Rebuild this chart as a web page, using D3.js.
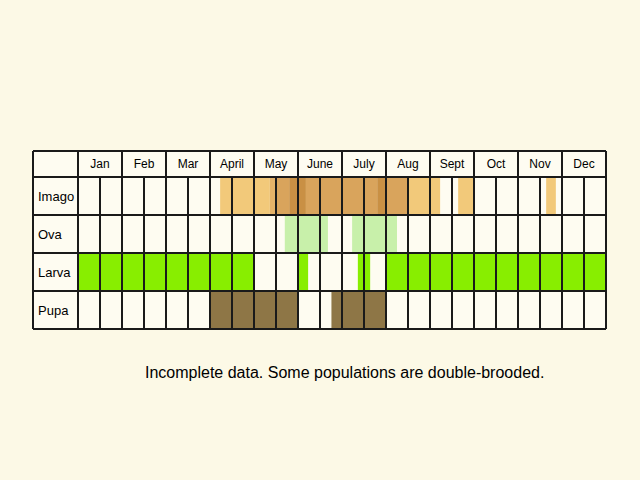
<!DOCTYPE html>
<html>
<head>
<meta charset="utf-8">
<script src="https://cdn.jsdelivr.net/npm/d3@7"></script>
<style>
  body { margin:0; background:#fcf9e6; }
  svg { display:block; font-family:"Liberation Sans", Arial, sans-serif; }
</style>
</head>
<body>
<script>
// months and life stages
const months = ["Jan","Feb","Mar","April","May","June","July","Aug","Sept","Oct","Nov","Dec"];
const stages = ["Imago","Ova","Larva","Pupa"];

// periods in months from 1 Jan (0) to 31 Dec (12); level = how many records overlap
const imago = [
  [3.23, 4.36, 1], [4.36, 4.52, 2], [4.52, 4.80, 3], [4.80, 5.18, 4],
  [5.18, 6.80, 3], [6.80, 7.00, 4], [7.00, 7.50, 3], [7.50, 8.23, 1],
  [8.64, 8.98, 1], [10.64, 10.86, 1]
];
const ova = [[4.70, 5.68], [6.23, 7.25]];
const larva = [[0, 4], [5.0, 5.23], [6.36, 6.64], [7, 12]];
const pupa = [[3, 5], [5.76, 7]];

const note = "Incomplete data. Some populations are double-brooded.";

function viz(){
  const width = 640, height = 480;
  const left = 33, labelW = 45, right = 606, top = 151, headH = 26, bottom = 329;

  const svg = d3.select("body").append("svg")
                .attr("width", width).attr("height", height);

  const x = d3.scaleLinear().domain([0,12]).range([left+labelW, right]);
  const y = d3.scaleBand().domain(stages).range([top+headH, bottom]);

  const imagoColor = d3.scaleOrdinal().domain([1,2,3,4])
                       .range(["#f2c97a","#e4b268","#d9a45c","#c99044"]);

  // table background
  svg.append("rect").attr("x",left).attr("y",top)
     .attr("width",right-left).attr("height",bottom-top).attr("fill","#fefcf1");

  // bars
  const bars = svg.append("g");
  bars.selectAll(".imago").data(imago).join("rect")
      .attr("x",d=>x(d[0])).attr("width",d=>x(d[1])-x(d[0]))
      .attr("y",y("Imago")).attr("height",y.bandwidth())
      .attr("fill",d=>imagoColor(d[2]));
  bars.selectAll(".ova").data(ova).join("rect")
      .attr("x",d=>x(d[0])).attr("width",d=>x(d[1])-x(d[0]))
      .attr("y",y("Ova")).attr("height",y.bandwidth()).attr("fill","#c8f0aa");
  bars.selectAll(".larva").data(larva).join("rect")
      .attr("x",d=>x(d[0])).attr("width",d=>x(d[1])-x(d[0]))
      .attr("y",y("Larva")).attr("height",y.bandwidth()).attr("fill","#88ee00");
  bars.selectAll(".pupa").data(pupa).join("rect")
      .attr("x",d=>x(d[0])).attr("width",d=>x(d[1])-x(d[0]))
      .attr("y",y("Pupa")).attr("height",y.bandwidth()).attr("fill","#8e7646");

  // grid lines
  const grid = svg.append("g").attr("stroke","#1a1a1a").attr("stroke-width",2);
  // horizontal
  grid.selectAll(".h").data([top, ...stages.map(s=>y(s)), bottom]).join("line")
      .attr("x1",left).attr("x2",right).attr("y1",d=>d).attr("y2",d=>d);
  // month lines through header
  grid.selectAll(".m").data(d3.range(0,13)).join("line")
      .attr("x1",d=>x(d)).attr("x2",d=>x(d)).attr("y1",top).attr("y2",bottom);
  // half month lines below header
  grid.selectAll(".hm").data(d3.range(0.5,12,1)).join("line")
      .attr("x1",d=>x(d)).attr("x2",d=>x(d)).attr("y1",top+headH).attr("y2",bottom);
  grid.append("line").attr("x1",left).attr("x2",left).attr("y1",top).attr("y2",bottom);

  // month labels
  svg.append("g").selectAll("text").data(months).join("text")
     .attr("x",(d,i)=>x(i+0.5)).attr("y",top+headH/2).attr("dy","0.36em")
     .attr("text-anchor","middle").style("font-size","12px").text(d=>d);

  // stage labels
  svg.append("g").selectAll("text").data(stages).join("text")
     .attr("x",left+5).attr("y",d=>y(d)+y.bandwidth()/2).attr("dy","0.36em")
     .style("font-size","13px").text(d=>d);

  svg.append("text").attr("x",145).attr("y",378)
     .style("font-size","16px").text(note);
}
viz();
</script>
</body>
</html>
